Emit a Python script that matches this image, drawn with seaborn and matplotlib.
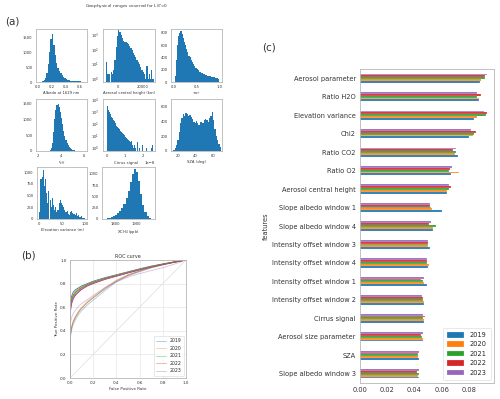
import numpy as np
import pandas as pd
import matplotlib
matplotlib.use("Agg")
import matplotlib.pyplot as plt
import seaborn as sns

sns.set_style("white")
plt.rcParams['font.family'] = ['DejaVu Sans']

# ---------------- data ----------------
years = ["2019", "2020", "2021", "2022", "2023"]
colors = ["#1f77b4", "#ff7f0e", "#2ca02c", "#d62728", "#9467bd"]

features = ["Aerosol parameter", "Ratio H2O", "Elevation variance", "Chi2", "Ratio CO2",
            "Ratio O2", "Aerosol central height", "Slope albedo window 1",
            "Slope albedo window 4", "Intensity offset window 3", "Intensity offset window 4",
            "Intensity offset window 1", "Intensity offset window 2", "Cirrus signal",
            "Aerosol size parameter", "SZA", "Slope albedo window 3"]
imp_2019 = [0.0883, 0.0871, 0.0837, 0.0802, 0.0717, 0.0671, 0.0637, 0.0600, 0.0532, 0.0510,
            0.0498, 0.0488, 0.0468, 0.0466, 0.0463, 0.0434, 0.0434]
imp_2020 = [0.0885, 0.0873, 0.0861, 0.0832, 0.0700, 0.0727, 0.0641, 0.0527, 0.0539, 0.0502,
            0.0505, 0.0466, 0.0466, 0.0473, 0.0461, 0.0429, 0.0424]
imp_2021 = [0.0920, 0.0860, 0.0927, 0.0839, 0.0705, 0.0654, 0.0651, 0.0520, 0.0554, 0.0500,
            0.0493, 0.0461, 0.0459, 0.0461, 0.0456, 0.0429, 0.0432]
imp_2022 = [0.0915, 0.0885, 0.0932, 0.0854, 0.0685, 0.0659, 0.0668, 0.0510, 0.0505, 0.0502,
            0.0495, 0.0451, 0.0461, 0.0480, 0.0449, 0.0429, 0.0420]
imp_2023 = [0.0934, 0.0861, 0.0912, 0.0815, 0.0707, 0.0678, 0.0651, 0.0517, 0.0524, 0.0502,
            0.0488, 0.0471, 0.0454, 0.0461, 0.0459, 0.0434, 0.0432]

# ROC curves
fpr = [0, 0.002, 0.005, 0.01, 0.02, 0.03, 0.05, 0.075, 0.1, 0.15, 0.2, 0.3, 0.4, 0.5,
       0.6, 0.7, 0.8, 0.9, 1.0]
tpr_train_2019 = [0, 0.58, 0.64, 0.68, 0.71, 0.73, 0.75, 0.765, 0.78, 0.80, 0.82, 0.85, 0.875, 0.90, 0.925, 0.948, 0.967, 0.985, 1.0]
tpr_train_2020 = [0, 0.54, 0.61, 0.655, 0.69, 0.71, 0.735, 0.755, 0.77, 0.795, 0.815, 0.846, 0.872, 0.897, 0.922, 0.945, 0.965, 0.984, 1.0]
tpr_train_2021 = [0, 0.52, 0.60, 0.645, 0.68, 0.70, 0.725, 0.748, 0.764, 0.79, 0.81, 0.842, 0.868, 0.894, 0.92, 0.943, 0.964, 0.983, 1.0]
tpr_train_2022 = [0, 0.50, 0.57, 0.615, 0.65, 0.675, 0.705, 0.73, 0.75, 0.78, 0.80, 0.835, 0.862, 0.89, 0.916, 0.94, 0.962, 0.982, 1.0]
tpr_train_2023 = [0, 0.51, 0.58, 0.625, 0.66, 0.685, 0.712, 0.737, 0.755, 0.784, 0.804, 0.838, 0.865, 0.892, 0.918, 0.942, 0.963, 0.982, 1.0]
tpr_test_2019 = [0, 0.30, 0.35, 0.39, 0.43, 0.46, 0.50, 0.54, 0.57, 0.62, 0.66, 0.74, 0.815, 0.865, 0.90, 0.932, 0.958, 0.98, 1.0]
tpr_test_2020 = [0, 0.34, 0.38, 0.42, 0.46, 0.49, 0.53, 0.57, 0.60, 0.65, 0.69, 0.765, 0.83, 0.875, 0.91, 0.94, 0.962, 0.982, 1.0]
tpr_test_2021 = [0, 0.33, 0.37, 0.41, 0.45, 0.48, 0.52, 0.56, 0.59, 0.64, 0.68, 0.758, 0.825, 0.872, 0.908, 0.938, 0.961, 0.981, 1.0]
tpr_test_2022 = [0, 0.32, 0.37, 0.41, 0.45, 0.48, 0.52, 0.56, 0.59, 0.64, 0.68, 0.755, 0.82, 0.87, 0.905, 0.936, 0.96, 0.98, 1.0]
tpr_test_2023 = [0, 0.42, 0.47, 0.50, 0.53, 0.55, 0.58, 0.61, 0.63, 0.665, 0.70, 0.765, 0.815, 0.855, 0.885, 0.91, 0.935, 0.965, 1.0]

# histograms: left bin edge, bin width, counts
albedo_start, albedo_width = 0.06, 0.02
albedo_counts = [20, 60, 150, 300, 600, 1000, 1450, 1600, 1250, 900, 650, 480, 380, 300, 220, 160,
                 120, 90, 70, 55, 45, 40, 35, 30, 25, 22, 20, 18, 15, 10, 8, 5]
ach_start, ach_width = -10000, 1000
ach_counts = [15, 2, 2, 0, 3, 2, 4, 20, 150, 800, 2000, 1500, 900, 600, 400, 300, 350, 280, 250,
              180, 120, 90, 60, 40, 30, 20, 15, 10, 6, 4, 3, 2, 1, 8, 1, 2, 1, 4, 1]
tau_start, tau_width = 0.0, 0.025
tau_counts = [0, 100, 350, 600, 750, 800, 830, 780, 720, 650, 600, 540, 480, 430, 400, 360, 320,
              290, 260, 230, 210, 190, 170, 160, 150, 140, 130, 120, 110, 105, 100, 95, 90, 85,
              80, 75, 70, 65, 60, 55]
reff_start, reff_width = 3.0, 0.1
reff_counts = [20, 80, 250, 600, 1000, 1300, 1450, 1500, 1400, 1250, 1050, 850, 650, 480, 350,
               250, 180, 120, 80, 50, 30, 20, 10, 5, 3]
cirrus_start, cirrus_width = 0.0, 0.05e-8
cirrus_counts = [8000, 3000, 1500, 900, 600, 400, 300, 220, 160, 120, 90, 70, 55, 45, 35, 28, 22,
                 18, 15, 12, 10, 8, 7, 6, 5, 4, 3, 4, 2, 3, 1, 2, 1, 0, 3, 0, 1, 0, 0, 0, 2, 0,
                 0, 0, 1, 0, 0, 0, 0, 0, 1, 2]
sza_start, sza_width = 15.0, 1.5
sza_counts = [20, 40, 80, 150, 260, 380, 450, 500, 480, 510, 500, 470, 490, 460, 430, 400, 380,
              410, 380, 360, 390, 400, 380, 420, 440, 420, 400, 450, 480, 530, 420, 300, 200,
              150, 100, 60]
elev_start, elev_width = 0.0, 2.5
elev_counts = [150, 850, 900, 1050, 700, 850, 550, 350, 600, 400, 250, 450, 300, 200, 250, 150,
               200, 350, 400, 350, 300, 250, 200, 150, 180, 100, 80, 150, 180, 120, 100, 80,
               120, 60, 90, 50, 40, 60, 30, 20]
xch4_start, xch4_width = 1740, 10
xch4_counts = [5, 10, 15, 25, 40, 60, 90, 130, 180, 250, 340, 460, 620, 820, 1000, 1100, 1050,
               850, 550, 300, 150, 60, 20, 5]

# ---------------- figure ----------------
W, H = 500, 399
fig = plt.figure(figsize=(W / 100, H / 100), dpi=100)


def rect(l, t, r, b):
    return [l / W, 1 - b / H, (r - l) / W, (b - t) / H]


SPINE = "#b8b8b8"
TXT = "#333333"
HFS = 2.7


def style_ax(ax, fs=HFS):
    for s in ax.spines.values():
        s.set_color(SPINE)
        s.set_linewidth(0.6)
    ax.tick_params(labelsize=fs, length=1.5, width=0.4, pad=1, colors=TXT, color="#666666")


def hist(ax, start, width, counts, xlabel, xlim, ylim, xticks, yticks=None, log=False):
    n = len(counts)
    centers = [start + width * (i + 0.5) for i in range(n)]
    edges = [start + width * i for i in range(n + 1)]
    sns.histplot(x=centers, weights=counts, bins=edges, ax=ax, color="#1f77b4",
                 alpha=1, linewidth=0)
    if log:
        ax.set_yscale("log")
    ax.set_xlim(*xlim)
    ax.set_ylim(*ylim)
    ax.set_xticks(xticks)
    if yticks is not None:
        ax.set_yticks(yticks)
    ax.set_ylabel("")
    ax.set_xlabel(xlabel, fontsize=HFS, labelpad=1, color=TXT)
    style_ax(ax)


fig.text(127 / W, 1 - 6 / H, "Geophysical ranges covered for L$_{ST}$=0", fontsize=3.1,
         ha="center", va="center", color=TXT)
fig.text(5 / W, 1 - 22 / H, "(a)", fontsize=7.5, ha="left", va="center", color=TXT)
fig.text(21 / W, 1 - 255 / H, "(b)", fontsize=7.5, ha="left", va="center", color=TXT)
fig.text(262 / W, 1 - 48 / H, "(c)", fontsize=7.5, ha="left", va="center", color=TXT)

ax1 = fig.add_axes(rect(36, 29, 87, 82))
hist(ax1, albedo_start, albedo_width, albedo_counts, "Albedo at 1629 nm", (-0.03, 0.71),
     (0, 1780), [0.0, 0.2, 0.4, 0.6], [0, 500, 1000, 1500])
ax2 = fig.add_axes(rect(103, 29, 155, 82))
hist(ax2, ach_start, ach_width, ach_counts, "Aerosol central height (km)", (-12300, 30100),
     (0.6, 2500), [0, 20000], [1, 10, 100, 1000], log=True)
ax3 = fig.add_axes(rect(171, 29, 222, 82))
hist(ax3, tau_start, tau_width, tau_counts, r"$\tau_{aer}$", (-0.056, 1.056), (0, 862),
     [0.0, 0.5, 1.0], [0, 200, 400, 600, 800])
ax4 = fig.add_axes(rect(36, 99, 87, 151))
hist(ax4, reff_start, reff_width, reff_counts, r"$r_{eff}$", (1.8, 6.3), (0, 1650),
     [2, 4, 6], [0, 500, 1000, 1500])
ax5 = fig.add_axes(rect(103, 99, 155, 151))
hist(ax5, cirrus_start, cirrus_width, cirrus_counts, "", (-0.2e-8, 2.7e-8),
     (0.6, 11000), [0, 1e-8, 2e-8], [1, 10, 100, 1000, 10000], log=True)
ax5.xaxis.get_offset_text().set_visible(False)
ax5.set_xticklabels(["0", "1", "2"])
ax5.text(0.45, -0.2, "Cirrus signal", transform=ax5.transAxes, fontsize=HFS, ha="center",
         va="top", color=TXT)
ax5.text(1.0, -0.2, "1e\u22128", transform=ax5.transAxes, fontsize=HFS, ha="right",
         va="top", color=TXT)
ax6 = fig.add_axes(rect(171, 99, 222, 151))
hist(ax6, sza_start, sza_width, sza_counts, "SZA (deg)", (12.5, 70), (0, 707),
     [20, 40, 60], [0, 200, 400, 600])
ax7 = fig.add_axes(rect(37, 167, 87, 219))
hist(ax7, elev_start, elev_width, elev_counts, "Elevation variance (m)", (-5, 105), (0, 1111),
     [0, 50, 100], [0, 250, 500, 750, 1000])
ax8 = fig.add_axes(rect(102, 167, 155, 219))
hist(ax8, xch4_start, xch4_width, xch4_counts, "XCH$_4$ (ppb)", (1738, 1990), (0, 1150),
     [1800, 1900], [0, 250, 500, 750, 1000])

# ---------------- ROC ----------------
axr = fig.add_axes(rect(70, 260, 186, 378))
train = [tpr_train_2019, tpr_train_2020, tpr_train_2021, tpr_train_2022, tpr_train_2023]
test = [tpr_test_2019, tpr_test_2020, tpr_test_2021, tpr_test_2022, tpr_test_2023]
axr.plot([0, 1], [0, 1], color="#dddddd", lw=0.5)
for y, tr, c in zip(years, train, colors):
    sns.lineplot(x=fpr, y=tr, ax=axr, color=c, lw=0.6, estimator=None, sort=False)
for y, te, c in zip(years, test, colors):
    sns.lineplot(x=fpr, y=te, ax=axr, color=c, lw=0.6, alpha=0.4, label=y,
                 estimator=None, sort=False)
axr.set_xlim(0, 1)
axr.set_ylim(0, 1)
axr.set_xticks(np.arange(0, 1.01, 0.2))
axr.set_yticks(np.arange(0, 1.01, 0.2))
axr.grid(True, color="#e6e6e6", lw=0.5)
axr.set_title("ROC curve", fontsize=3.5, pad=1.5, color=TXT)
axr.set_xlabel("False Positive Rate", fontsize=2.9, labelpad=1, color=TXT)
axr.set_ylabel("True Positive Rate", fontsize=2.9, labelpad=1, color=TXT)
style_ax(axr, 3.0)
leg = axr.legend(loc="lower right", fontsize=3.3, frameon=True, handlelength=2.2,
                 borderpad=0.5, labelspacing=0.55)
leg.get_frame().set_linewidth(0.4)
leg.get_frame().set_edgecolor("#cccccc")

# ---------------- feature importance ----------------
axb = fig.add_axes(rect(360, 69, 494, 383))
rows = []
for y, vals in zip(years, [imp_2019, imp_2020, imp_2021, imp_2022, imp_2023]):
    for f, v in zip(features, vals):
        rows.append({"features": f, "year": y, "importance": v})
df = pd.DataFrame(rows)
pal = dict(zip(years, colors))
sns.barplot(data=df, y="features", x="importance", hue="year", hue_order=years[::-1],
            order=features, palette=pal, orient="h", width=0.5, ax=axb,
            edgecolor="white", linewidth=0.15, saturation=1)
axb.set_xlim(0, 0.0983)
axb.set_xticks([0.0, 0.02, 0.04, 0.06, 0.08])
axb.set_xticklabels(["0.00", "0.02", "0.04", "0.06", "0.08"])
axb.set_xlabel("")
axb.set_ylabel("features", fontsize=4.8, labelpad=2, color=TXT)
style_ax(axb, 4.8)
axb.tick_params(axis="both", length=2)
handles, labels = axb.get_legend_handles_labels()
hmap = dict(zip(labels, handles))
leg2 = axb.legend([hmap[y] for y in years], years, loc="lower right", fontsize=4.8,
                  handlelength=2.6, handleheight=0.9, borderpad=0.6, labelspacing=0.5,
                  frameon=True)
leg2.get_frame().set_linewidth(0.4)
leg2.get_frame().set_edgecolor("#cccccc")

fig.savefig("out.png", dpi=100, facecolor="white")
